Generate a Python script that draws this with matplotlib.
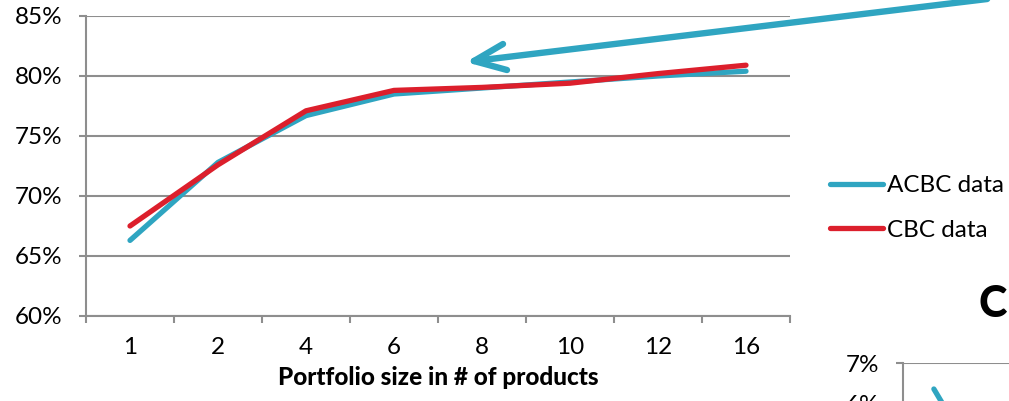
import matplotlib
matplotlib.use("Agg")
import matplotlib.pyplot as plt
from matplotlib.lines import Line2D
import numpy as np

plt.rcParams['font.family'] = ['Lato', 'DejaVu Sans']

# Hit rate by portfolio size
portfolio_sizes = ["1", "2", "4", "6", "8", "10", "12", "16"]
acbc_hit = [66.3, 72.8, 76.7, 78.5, 79.0, 79.5, 80.0, 80.4]
cbc_hit = [67.5, 72.6, 77.1, 78.8, 79.05, 79.4, 80.2, 80.9]
y_ticks = [60, 65, 70, 75, 80, 85]

# Second panel (partially visible)
panel2_title = "C"
panel2_acbc = [6.35, 3.75]
panel2_ticks = [4, 5, 6, 7]

TEAL = "#2fa5c1"
RED = "#dc1f2c"
GRID = "#8e8e8e"

W, H = 1009, 401
fig = plt.figure(figsize=(W / 100, H / 100), dpi=100)

def fx(px):
    return px / W

def fy(py):
    return 1 - py / H

# main chart
ax = fig.add_axes([fx(86), fy(316), fx(790) - fx(86), fy(16) - fy(316)])
x = np.arange(len(portfolio_sizes))
lw = 3.8
ax.plot(x, acbc_hit, color=TEAL, lw=lw, solid_capstyle='round', solid_joinstyle='round', zorder=3, label="ACBC data")
ax.plot(x, cbc_hit, color=RED, lw=lw, solid_capstyle='round', solid_joinstyle='round', zorder=4, label="CBC data")

ax.set_xlim(-0.5, len(x) - 0.5)
ax.set_ylim(60, 85)
ax.set_yticks(y_ticks)
ax.set_yticklabels([f"{v}%" for v in y_ticks])
ax.yaxis.grid(True, color=GRID, lw=1.5)
ax.set_axisbelow(True)
ax.set_xticks(np.arange(-0.5, len(x)), minor=False)
ax.set_xticklabels([])
ax.set_xticks(x, minor=True)
ax.set_xticklabels(portfolio_sizes, minor=True)
ax.tick_params(axis='x', which='major', length=5, width=1.5, color=GRID, direction='out')
ax.tick_params(axis='x', which='minor', length=0, pad=15, labelsize=17.5)
ax.tick_params(axis='y', length=5, width=1.5, color=GRID, pad=12, labelsize=17.5)
for s in ['top', 'right']:
    ax.spines[s].set_visible(False)
for s in ['left', 'bottom']:
    ax.spines[s].set_color(GRID)
    ax.spines[s].set_linewidth(1.5)
ax.set_xlabel("Portfolio size in # of products", fontsize=17.5, fontweight='black', labelpad=6)

leg = fig.legend(handles=[Line2D([], [], color=TEAL, lw=lw, solid_capstyle='round'),
                          Line2D([], [], color=RED, lw=lw, solid_capstyle='round')],
                 labels=["ACBC data", "CBC data"],
                 loc='center left', bbox_to_anchor=(fx(830), fy(208)),
                 frameon=False, fontsize=17.5, handlelength=2.2, handletextpad=0.15,
                 labelspacing=0.95, borderaxespad=0, borderpad=0)

# second panel, cut off at the edge
ax2 = fig.add_axes([fx(903), fy(523), fx(1150) - fx(903), fy(363) - fy(523)])
ax2.set_ylim(3, 7)
ax2.set_xlim(-0.5, 3.5)
ax2.plot([0, 1], panel2_acbc, color=TEAL, lw=lw, solid_capstyle='round')
ax2.set_yticks(panel2_ticks)
ax2.set_yticklabels([f"{v}%" for v in panel2_ticks])
ax2.yaxis.grid(True, color=GRID, lw=1.5)
ax2.set_xticks([])
ax2.tick_params(axis='y', length=5, width=1.5, color=GRID, pad=12, labelsize=17.5)
for s in ['top', 'right', 'bottom']:
    ax2.spines[s].set_visible(False)
ax2.spines['left'].set_color(GRID)
ax2.spines['left'].set_linewidth(1.5)
fig.text(fx(979), fy(304), panel2_title, fontsize=31, fontweight='black', va='center', ha='left')

# callout arrow
ov = fig.add_axes([0, 0, 1, 1], facecolor='none')
ov.set_xlim(0, W)
ov.set_ylim(H, 0)
ov.axis('off')
tip = (474, 61)
for end in [(1012, -4), (503, 44), (507, 70)]:
    ov.plot([tip[0], end[0]], [tip[1], end[1]], color=TEAL, lw=4.6, solid_capstyle='round')

fig.savefig("out.png", dpi=100)
